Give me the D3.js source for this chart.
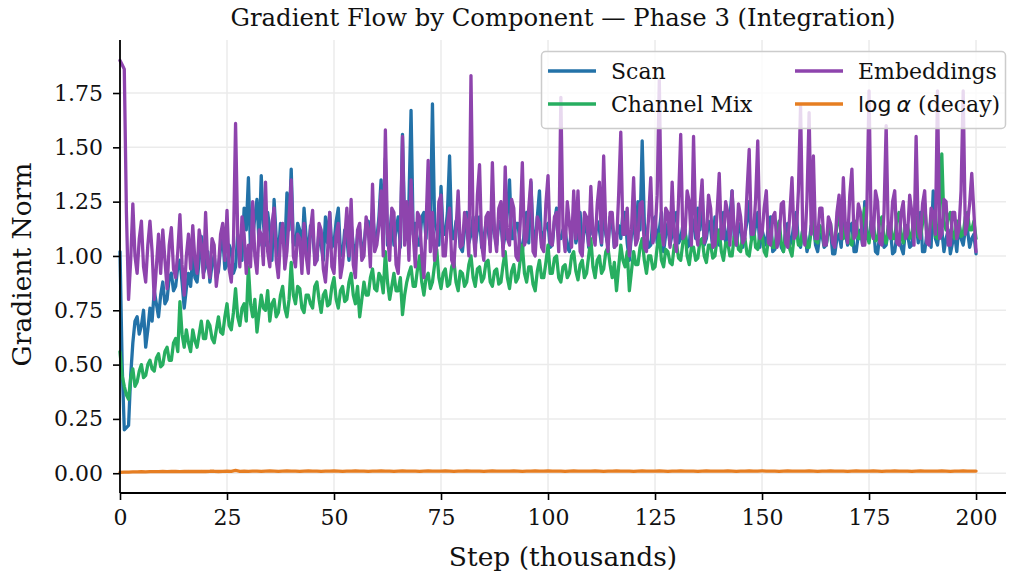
<!DOCTYPE html>
<html>
<head>
<meta charset="utf-8">
<script src="https://cdn.jsdelivr.net/npm/d3@7"></script>
<style>
  html, body { margin: 0; padding: 0; background: #fff; }
  svg { display: block; }
</style>
</head>
<body>
<svg id="chart" width="1009" height="575"></svg>
<script>
// Step axis (thousands): gradient norms are logged every 500 steps,
// the decay parameter every 1000 steps.
const halfSteps = d3.range(0, 200.5, 0.5);
const wholeSteps = d3.range(0, 201);

// Each row below covers 10k steps (20 samples)
const scanNorm = [
  1.02,0.50,0.20,0.21,0.22,0.45,0.60,0.70,0.72,0.64,0.68,0.75,0.58,0.66,0.76,0.70,0.84,0.78,0.72,0.82,
  0.88,0.78,0.80,0.90,0.92,0.84,0.86,0.95,0.98,0.88,0.76,0.85,0.92,0.86,1.00,0.90,0.88,0.98,1.09,0.92,
  0.95,1.02,0.88,0.96,1.00,0.90,0.93,1.04,1.09,0.94,0.96,1.05,1.02,0.92,0.95,1.10,1.05,0.98,1.22,1.12,
  1.36,1.02,1.08,1.18,1.26,1.05,1.37,1.15,1.05,1.20,1.12,0.98,1.26,1.08,1.00,1.15,1.10,1.02,1.29,1.12,
  1.40,1.06,1.05,1.15,1.12,1.00,1.22,1.08,1.02,1.14,1.10,1.00,0.98,1.12,1.05,0.98,1.18,1.06,1.20,1.04,
  1.06,1.16,1.22,1.02,1.00,1.12,1.08,0.98,1.15,1.05,0.98,1.10,1.12,1.02,1.05,1.15,1.16,1.04,1.20,1.08,
  1.08,1.18,1.35,1.12,1.45,1.05,1.10,1.20,1.05,1.12,1.18,1.04,1.56,1.15,1.12,1.25,1.67,1.10,1.15,1.05,
  1.05,1.18,1.20,1.08,1.30,1.12,1.70,1.15,1.12,1.05,1.32,1.10,1.10,1.20,1.46,1.08,1.08,1.16,1.15,1.04,
  1.02,1.12,1.20,1.06,1.10,1.18,1.05,1.12,1.18,1.04,1.08,1.15,1.12,1.05,1.25,1.10,1.05,1.16,1.15,1.04,
  1.10,1.20,1.35,1.08,1.08,1.15,1.15,1.04,1.02,1.12,1.20,1.06,1.34,1.10,1.06,1.18,1.30,1.05,1.10,1.14,
  1.15,1.04,1.05,1.16,1.22,1.08,1.08,1.12,1.12,1.04,1.02,1.15,1.18,1.06,1.10,1.20,1.05,1.12,1.15,1.04,
  1.20,1.10,1.08,1.16,1.12,1.05,1.25,1.10,1.05,1.18,1.15,1.04,1.10,1.14,1.08,1.20,1.20,1.06,0.98,1.10,
  1.15,1.06,1.25,1.12,1.53,1.15,1.10,1.04,1.05,1.16,1.18,1.06,1.12,1.20,1.02,1.10,1.15,1.05,1.10,1.18,
  1.20,1.06,1.08,1.14,1.12,1.04,1.05,1.18,1.15,1.08,1.22,1.12,1.30,1.05,1.08,1.16,1.12,1.04,1.18,1.10,
  1.05,1.14,1.20,1.06,1.10,1.18,1.30,1.08,1.05,1.12,1.15,1.04,1.10,1.16,1.25,1.08,1.08,1.14,1.20,1.04,
  1.12,1.08,1.05,1.14,1.18,1.02,1.03,1.10,1.10,1.04,1.02,1.12,1.15,1.05,1.08,1.16,1.20,1.06,1.04,1.12,
  1.12,1.02,1.06,1.14,1.15,1.05,1.02,1.10,1.10,1.04,1.05,1.12,1.12,1.01,1.01,1.08,1.10,1.04,1.22,1.10,
  1.05,1.14,1.15,1.02,1.02,1.10,1.12,1.05,1.25,1.08,1.08,1.16,1.15,1.02,1.01,1.10,1.10,1.04,1.05,1.12,
  1.12,1.01,1.02,1.10,1.08,1.04,1.01,1.12,1.10,1.04,1.05,1.14,1.15,1.06,1.20,1.02,1.02,1.10,1.10,1.04,
  1.30,1.08,1.05,1.14,1.12,1.02,1.08,1.12,1.01,1.06,1.10,1.02,1.15,1.08,1.05,1.12,1.12,1.04,1.08,1.10,
  1.01
];

const channelMixNorm = [
  0.56,0.45,0.40,0.36,0.34,0.44,0.48,0.40,0.42,0.47,0.50,0.44,0.45,0.50,0.52,0.48,0.47,0.53,0.55,0.49,
  0.50,0.56,0.58,0.52,0.52,0.60,0.62,0.56,0.79,0.64,0.58,0.66,0.60,0.56,0.66,0.61,0.58,0.64,0.70,0.62,
  0.62,0.70,0.68,0.62,0.60,0.66,0.72,0.65,0.64,0.72,0.78,0.68,0.66,0.74,0.85,0.72,0.68,0.76,0.78,0.70,
  0.95,0.78,0.72,0.80,0.65,0.74,0.82,0.76,0.75,0.84,0.70,0.78,0.80,0.72,0.74,0.82,0.86,0.76,0.72,0.80,
  0.97,0.82,0.78,0.86,0.85,0.76,0.74,0.82,0.82,0.78,0.76,0.86,0.88,0.80,0.74,0.82,0.84,0.77,0.78,0.86,
  0.90,0.80,0.76,0.84,0.86,0.79,0.80,0.88,0.92,0.82,0.78,0.86,0.72,0.80,0.88,0.82,0.82,0.90,0.94,0.85,
  0.84,0.92,0.90,0.83,1.02,0.88,0.80,0.86,0.92,0.84,0.84,0.90,0.73,0.82,0.88,0.92,0.95,0.86,0.86,0.94,
  1.00,0.88,0.82,0.90,0.92,0.85,0.88,0.96,1.03,0.90,0.85,0.92,0.94,0.86,0.87,0.95,0.98,0.88,0.84,0.93,
  0.92,0.86,0.88,0.96,1.00,0.90,0.86,0.94,0.95,0.88,0.90,0.97,0.98,0.88,0.86,0.93,0.94,0.87,0.88,0.96,
  1.02,0.90,0.85,0.93,0.96,0.88,0.90,0.98,1.05,0.92,0.88,0.95,0.95,0.87,0.84,0.93,0.98,0.90,0.90,0.97,
  1.05,0.92,0.92,0.99,1.00,0.90,0.88,0.95,0.96,0.90,0.92,1.00,1.02,0.93,0.89,0.96,0.98,0.90,0.92,1.00,
  1.08,0.95,0.90,0.98,1.00,0.92,0.94,1.02,1.04,0.96,0.90,0.97,0.84,0.95,1.05,0.98,0.95,1.02,0.84,0.93,
  1.02,0.96,0.96,1.04,1.08,0.98,0.92,1.00,1.00,0.94,0.95,1.04,1.10,0.98,0.95,1.03,1.02,0.97,0.96,1.05,
  1.06,0.99,0.98,1.06,1.12,1.00,0.96,1.04,1.04,0.98,0.99,1.07,1.08,1.00,0.97,1.05,1.05,0.99,1.00,1.08,
  1.12,1.02,0.98,1.06,1.06,1.00,1.00,1.09,1.10,1.03,1.02,1.10,1.08,1.01,1.00,1.07,1.14,1.04,1.03,1.10,
  1.10,1.02,1.00,1.08,1.12,1.04,1.04,1.12,1.16,1.06,1.02,1.10,1.10,1.03,1.00,1.09,1.14,1.05,1.05,1.12,
  1.12,1.04,1.04,1.12,1.18,1.07,1.06,1.14,1.12,1.05,1.05,1.13,1.15,1.07,1.06,1.14,1.20,1.09,1.08,1.15,
  1.14,1.06,1.05,1.13,1.16,1.08,1.08,1.16,1.22,1.10,1.06,1.14,1.14,1.07,1.08,1.16,1.18,1.08,1.06,1.14,
  1.15,1.08,1.08,1.17,1.20,1.10,1.06,1.14,1.14,1.08,1.10,1.18,1.18,1.09,1.08,1.15,1.24,1.10,1.10,1.17,
  1.16,1.09,1.08,1.20,1.47,1.15,1.12,1.18,1.20,1.10,1.08,1.16,1.16,1.09,1.10,1.18,1.20,1.12,1.12,1.16,
  1.08
];

const embeddingsNorm = [
  1.90,1.88,1.86,1.20,0.80,0.98,1.24,1.00,0.92,1.08,1.16,0.95,0.88,1.05,1.16,1.02,0.80,0.95,1.10,0.92,
  1.12,0.98,0.85,1.05,1.13,0.94,0.90,1.02,1.19,0.96,0.82,1.00,1.10,0.94,1.14,0.98,0.92,1.12,1.05,0.90,
  1.20,0.96,0.90,1.08,1.05,0.86,0.95,1.10,1.15,0.98,1.21,0.94,0.88,1.05,1.61,1.10,0.95,1.18,1.10,0.92,
  1.05,0.95,1.25,1.00,0.92,1.12,1.10,0.96,1.34,1.02,0.95,1.15,1.22,0.98,0.90,1.08,1.15,0.94,1.02,1.18,
  1.35,1.00,0.95,1.10,1.08,0.92,1.15,1.00,0.92,1.12,1.21,0.96,0.98,1.15,1.12,0.94,0.88,1.02,1.20,0.95,
  0.92,1.10,1.15,0.90,0.96,1.08,1.22,1.00,1.26,0.96,0.90,1.12,1.15,0.98,1.00,1.18,1.12,0.95,1.33,1.02,
  1.05,1.14,1.30,1.00,1.58,1.10,0.98,1.22,1.20,0.96,0.92,1.10,1.55,1.05,1.25,0.98,1.35,1.10,0.95,1.20,
  1.18,1.00,0.90,1.14,1.44,1.02,1.20,0.98,1.05,1.25,1.28,1.00,1.00,1.15,1.22,0.98,0.95,1.12,1.30,1.04,
  1.05,1.20,1.15,1.00,1.83,1.12,1.00,1.28,1.42,1.05,0.98,1.18,1.20,1.02,1.43,1.10,1.02,1.22,1.25,1.00,
  1.41,1.08,1.05,1.26,1.22,1.00,0.98,1.15,1.43,1.05,1.08,1.22,1.35,1.02,1.00,1.18,1.15,1.04,1.02,1.24,
  1.37,1.06,1.05,1.18,1.20,1.02,1.73,1.12,1.02,1.25,1.15,1.04,1.30,1.08,1.30,1.02,1.00,1.20,1.18,1.05,
  1.32,1.10,1.05,1.24,1.34,1.06,1.46,1.12,1.02,1.20,1.20,1.04,1.05,1.28,1.57,1.10,1.10,1.22,1.00,1.12,
  1.36,1.05,1.08,1.24,1.25,1.04,1.02,1.18,1.36,1.06,1.10,1.28,1.81,1.12,1.05,1.22,1.20,1.04,1.34,1.10,
  1.02,1.26,1.56,1.08,1.10,1.30,1.25,1.05,1.55,1.12,1.05,1.22,1.35,1.06,1.10,1.28,1.22,1.04,1.05,1.20,
  1.38,1.08,1.08,1.25,1.20,1.05,1.30,1.12,1.05,1.24,1.18,1.06,1.08,1.30,1.49,1.10,1.10,1.26,1.53,1.08,
  1.10,1.22,1.30,1.06,1.05,1.18,1.20,1.04,1.08,1.24,1.25,1.06,1.04,1.20,1.36,1.08,1.10,1.30,1.69,1.12,
  1.05,1.26,1.66,1.10,1.46,1.08,1.08,1.22,1.22,1.05,1.05,1.18,1.15,1.06,1.04,1.20,1.28,1.08,1.36,1.12,
  1.06,1.28,1.40,1.08,1.10,1.24,1.20,1.05,1.05,1.22,1.76,1.12,1.08,1.30,1.25,1.06,1.05,1.20,1.60,1.10,
  1.08,1.25,1.30,1.06,1.05,1.20,1.25,1.08,1.10,1.28,1.20,1.05,1.55,1.12,1.08,1.24,1.30,1.06,1.05,1.22,
  1.20,1.10,1.76,1.08,1.10,1.26,1.25,1.05,1.05,1.20,1.20,1.08,1.12,1.30,1.76,1.10,1.15,1.24,1.38,1.20,
  1.02
];

// Each row below covers 10k steps (10 samples)
const logAlphaNorm = [
  0.004,0.005,0.005,0.006,0.006,0.007,0.006,0.007,0.007,0.007,
  0.008,0.007,0.008,0.008,0.007,0.008,0.009,0.008,0.008,0.009,
  0.008,0.009,0.009,0.008,0.009,0.010,0.009,0.013,0.009,0.010,
  0.009,0.010,0.010,0.009,0.010,0.011,0.010,0.009,0.010,0.011,
  0.010,0.010,0.009,0.010,0.011,0.010,0.010,0.009,0.010,0.010,
  0.011,0.010,0.009,0.010,0.010,0.011,0.010,0.010,0.009,0.010,
  0.010,0.011,0.010,0.010,0.009,0.010,0.011,0.010,0.010,0.010,
  0.009,0.010,0.011,0.010,0.010,0.010,0.011,0.010,0.009,0.010,
  0.010,0.011,0.010,0.010,0.010,0.009,0.010,0.011,0.010,0.010,
  0.010,0.010,0.011,0.010,0.009,0.010,0.010,0.011,0.010,0.010,
  0.011,0.010,0.010,0.010,0.009,0.010,0.011,0.010,0.010,0.010,
  0.010,0.011,0.010,0.009,0.010,0.010,0.011,0.010,0.010,0.010,
  0.009,0.010,0.011,0.010,0.010,0.010,0.011,0.010,0.009,0.010,
  0.010,0.011,0.010,0.010,0.010,0.009,0.010,0.011,0.010,0.010,
  0.010,0.010,0.011,0.010,0.009,0.010,0.010,0.011,0.010,0.010,
  0.011,0.010,0.010,0.010,0.009,0.010,0.011,0.010,0.010,0.010,
  0.010,0.011,0.010,0.009,0.010,0.010,0.011,0.010,0.010,0.010,
  0.009,0.010,0.011,0.010,0.010,0.010,0.011,0.010,0.009,0.010,
  0.010,0.011,0.010,0.010,0.010,0.009,0.010,0.011,0.010,0.010,
  0.010,0.010,0.011,0.010,0.009,0.010,0.010,0.011,0.010,0.010,
  0.010
];

const seriesNames = ["Scan", "Channel Mix", "Embeddings", "log α (decay)"];
const seriesValues = [scanNorm, channelMixNorm, embeddingsNorm, logAlphaNorm];
const seriesSteps = [halfSteps, halfSteps, halfSteps, wholeSteps];
const seriesColors = ["#2372a8", "#27ae60", "#8e44ad", "#e67e22"];

const xTicks = [0, 25, 50, 75, 100, 125, 150, 175, 200];
const yTicks = [0.00, 0.25, 0.50, 0.75, 1.00, 1.25, 1.50, 1.75];

const titleText = "Gradient Flow by Component \u2014 Phase 3 (Integration)";
const xLabel = "Step (thousands)";
const yLabel = "Gradient Norm";

const serif = "'DejaVu Serif', serif";
const plot = { left: 120, right: 1006, top: 40, bottom: 493 };

const svg = d3.select("#chart");

const x = d3.scaleLinear().domain([0, 207]).range([plot.left, plot.right]);
const y = d3.scaleLinear().domain([-0.091, 1.994]).range([plot.bottom, plot.top]);

// grid
const grid = svg.append("g");
grid.selectAll("line.vx").data(xTicks).join("line")
  .attr("x1", d => x(d)).attr("x2", d => x(d))
  .attr("y1", plot.top).attr("y2", plot.bottom)
  .attr("stroke", "#ebebeb").attr("stroke-width", 1.5);
grid.selectAll("line.hy").data(yTicks).join("line")
  .attr("x1", plot.left).attr("x2", plot.right)
  .attr("y1", d => y(d)).attr("y2", d => y(d))
  .attr("stroke", "#ebebeb").attr("stroke-width", 1.5);

// series lines
const series = seriesNames.map((name, k) => ({
  name,
  color: seriesColors[k],
  points: seriesValues[k].map((v, i) => [seriesSteps[k][i], v])
}));

const line = d3.line()
  .x(d => x(d[0]))
  .y(d => y(d[1]));

svg.append("g").selectAll("path").data(series).join("path")
  .attr("d", d => line(d.points))
  .attr("fill", "none")
  .attr("stroke", d => d.color)
  .attr("stroke-width", 3.3)
  .attr("stroke-linejoin", "round")
  .attr("stroke-linecap", "round");

// axes
const xAxis = d3.axisBottom(x).tickValues(xTicks).tickFormat(d3.format("d"))
  .tickSize(7).tickPadding(9);
const yAxis = d3.axisLeft(y).tickValues(yTicks).tickFormat(d3.format(".2f"))
  .tickSize(7).tickPadding(10);

const gx = svg.append("g").attr("transform", `translate(0,${plot.bottom})`).call(xAxis);
const gy = svg.append("g").attr("transform", `translate(${plot.left},0)`).call(yAxis);
[gx, gy].forEach(g => {
  g.select(".domain").attr("stroke", "#000").attr("stroke-width", 1.8);
  g.selectAll(".tick line").attr("stroke", "#000").attr("stroke-width", 1.6);
  g.selectAll(".tick text").attr("fill", "#111").style("font-family", serif).style("font-size", "22px");
});
gx.select(".domain").attr("d", `M${plot.left},0H${plot.right}`);
gy.select(".domain").attr("d", `M0,${plot.bottom}V${plot.top}`);

// title and axis labels
svg.append("text").attr("x", (plot.left + plot.right) / 2).attr("y", 26)
  .attr("text-anchor", "middle").style("font-family", serif).style("font-size", "24.3px")
  .attr("fill", "#111").text(titleText);
svg.append("text").attr("x", (plot.left + plot.right) / 2).attr("y", 566)
  .attr("text-anchor", "middle").style("font-family", serif).style("font-size", "26.5px")
  .attr("fill", "#111").text(xLabel);
svg.append("text").attr("transform", `translate(31,${(plot.top + plot.bottom) / 2 - 2}) rotate(-90)`)
  .attr("text-anchor", "middle").style("font-family", serif).style("font-size", "26.5px")
  .attr("fill", "#111").text(yLabel);

// legend (two columns)
const legend = svg.append("g");
legend.append("rect")
  .attr("x", 541.5).attr("y", 51.5).attr("width", 464).attr("height", 77)
  .attr("rx", 4).attr("fill", "#fff").attr("fill-opacity", 0.8)
  .attr("stroke", "#cccccc").attr("stroke-width", 1.5);

const legendCols = [548, 795];
const legendRows = [71, 104];
series.forEach((s, i) => {
  const cx = legendCols[Math.floor(i / 2)];
  const cy = legendRows[i % 2];
  legend.append("line")
    .attr("x1", cx).attr("x2", cx + 48).attr("y1", cy).attr("y2", cy)
    .attr("stroke", s.color).attr("stroke-width", 3.6);
  const t = legend.append("text").attr("x", cx + 63).attr("y", cy + 8)
    .style("font-family", serif).style("font-size", "22px").attr("fill", "#111");
  if (s.name.startsWith("log α")) {
    t.append("tspan").style("font-family", "'DejaVu Sans', sans-serif").text("log");
    t.append("tspan").style("font-family", "'DejaVu Sans', sans-serif")
      .style("font-style", "italic").attr("dx", 5).text("α");
    t.append("tspan").text(" (decay)");
  } else {
    t.text(s.name);
  }
});
</script>
</body>
</html>
